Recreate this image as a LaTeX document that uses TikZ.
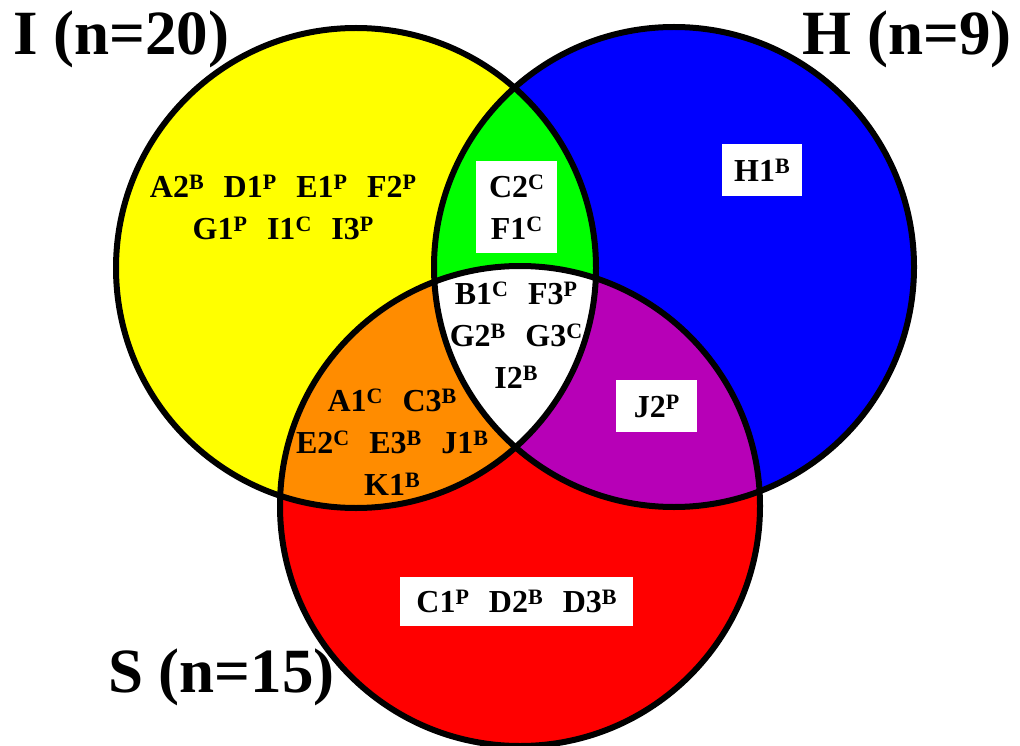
\documentclass[tikz,border=0pt]{standalone}
\usepackage{fontspec}
\setmainfont{Liberation Serif}
\definecolor{cyel}{RGB}{255,255,0}
\definecolor{cgrn}{RGB}{0,255,0}
\definecolor{cblu}{RGB}{0,0,255}
\definecolor{cred}{RGB}{255,0,0}
\definecolor{corg}{RGB}{255,140,0}
\definecolor{cpur}{RGB}{183,0,183}
\newcommand{\supx}[1]{\raisebox{8pt}{\fontsize{22}{22}\selectfont #1}}
\newcommand{\gapx}{\hspace{20pt}}
\tikzset{
  lab/.style={font=\bfseries\fontsize{32}{42}\selectfont, align=center, inner sep=0pt},
  big/.style={font=\bfseries\fontsize{63}{70}\selectfont, inner sep=0pt},
  wbox/.style={lab, fill=white, draw=none},
  outline/.style={draw=black, line width=6pt}
}
\begin{document}
\begin{tikzpicture}[x=1pt,y=-1pt]
\useasboundingbox (0,0) rectangle (1020,746);
\def\circI{(356,268) circle[radius=240]}
\def\circH{(674,267) circle[radius=240]}
\def\circS{(520,506) circle[radius=240]}
% base fills
\fill[cyel] \circI;
\fill[cblu] \circH;
\fill[cred] \circS;
% pairwise intersections
\begin{scope}
  \clip \circI;
  \fill[cgrn] \circH;
  \fill[corg] \circS;
\end{scope}
\begin{scope}
  \clip \circH;
  \fill[cpur] \circS;
\end{scope}
% triple intersection
\begin{scope}
  \clip \circI;
  \clip \circH;
  \fill[white] \circS;
\end{scope}
% outlines
\draw[outline] \circI;
\draw[outline] \circH;
\draw[outline] \circS;
% region texts
\node[lab] (tI) at (283,207.5) {A2\supx{B}\gapx D1\supx{P}\gapx E1\supx{P}\gapx F2\supx{P}\\G1\supx{P}\gapx I1\supx{C}\gapx I3\supx{P}};
\node[wbox, minimum width=81pt, minimum height=92pt] (tIH) at (516.5,207) {C2\supx{C}\\F1\supx{C}};
\node[wbox, minimum width=80pt, minimum height=52pt] (tH) at (762,170) {H1\supx{B}};
\node[lab] (tIHS) at (516,335) {B1\supx{C}\gapx F3\supx{P}\\G2\supx{B}\gapx G3\supx{C}\\I2\supx{B}};
\node[lab] (tIS) at (392,442) {A1\supx{C}\gapx C3\supx{B}\\E2\supx{C}\gapx E3\supx{B}\gapx J1\supx{B}\\K1\supx{B}};
\node[wbox, minimum width=81pt, minimum height=52pt] (tHS) at (656.5,406) {J2\supx{P}};
\node[wbox, minimum width=233pt, minimum height=49pt] (tS) at (516.5,601.5) {C1\supx{P}\gapx D2\supx{B}\gapx D3\supx{B}};
% set labels
\node[big, anchor=base west] (lI) at (13,55) {I (n=20)};
\node[big, anchor=base east] (lH) at (1012,55) {H (n=9)};
\node[big, anchor=base west] (lS) at (108,692) {S (n=15)};
\end{tikzpicture}
\end{document}
